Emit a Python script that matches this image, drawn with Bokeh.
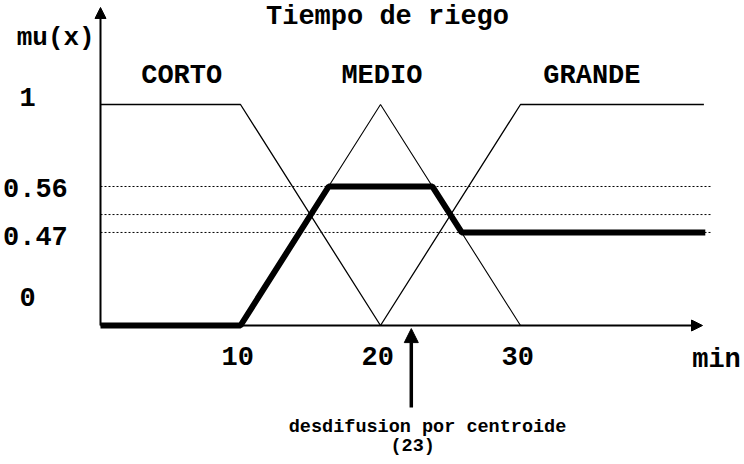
from bokeh.plotting import figure
from bokeh.models import Range1d, Arrow, NormalHead
from bokeh.core.properties import value
from bokeh.embed import file_html
from bokeh.resources import INLINE

# ---- data ----
title_text = "Tiempo de riego"
set_names = ["CORTO", "MEDIO", "GRANDE"]
set_centers = [5.8, 20.1, 35.1]

corto_x = [0, 10, 20]
corto_y = [1, 1, 0]
medio_x = [10, 20, 30]
medio_y = [0, 1, 0]
grande_x = [20, 30, 43.1]
grande_y = [0, 1, 1]

# aggregated output (thick line)
out_x = [0, 10, 16.3, 23.7, 25.8, 43.2]
out_y = [0, 0, 0.629, 0.629, 0.421, 0.421]

# dotted cut levels (as drawn) and their printed labels
level_y = [0.629, 0.502, 0.421]
ytick_labels = ["1", "0.56", "0.47", "0"]
ytick_pos = [1.032, 0.624, 0.403, 0.131]

xtick_vals = [10, 20, 30]
xtick_labels = ["10", "20", "30"]

centroid_x = 22.2
centroid_label = "(23)"
centroid_text = "desdifusion por centroide"

FONT = value("Liberation Mono")

p = figure(width=744, height=464, output_backend="svg", toolbar_location=None,
           x_range=Range1d(-100 / 14, 644 / 14), y_range=Range1d(-139 / 221, 325 / 221),
           min_border=0)
p.axis.visible = False
p.grid.visible = False
p.outline_line_color = None
p.background_fill_color = "white"
p.border_fill_color = "white"

# dotted levels
for ly in level_y:
    p.line([0, 43.6], [ly, ly], line_color="black", line_width=1, line_dash="2 2")

# membership functions
p.line(corto_x, corto_y, line_color="black", line_width=1.3)
p.line(medio_x, medio_y, line_color="black", line_width=1.1)
p.line(grande_x, grande_y, line_color="black", line_width=1.3)

# axes with arrows
p.add_layout(Arrow(end=NormalHead(size=11, fill_color="black", line_color="black"),
                   x_start=0, y_start=0, x_end=43.0, y_end=0,
                   line_color="black", line_width=2))
p.add_layout(Arrow(end=NormalHead(size=11, fill_color="black", line_color="black"),
                   x_start=0, y_start=0, x_end=0, y_end=1.439,
                   line_color="black", line_width=2))

# thick output
p.line(out_x, out_y, line_color="black", line_width=6)

# centroid arrow
p.add_layout(Arrow(end=NormalHead(size=14, fill_color="black", line_color="black"),
                   x_start=centroid_x, y_start=-0.371, x_end=centroid_x, y_end=-0.014,
                   line_color="black", line_width=3.5))

# texts
p.text(x=[20.5], y=[1.394], text=[title_text], text_font=FONT, text_font_style="bold",
       text_font_size="27px", text_align="center", text_baseline="middle")
p.text(x=[-3.2], y=[1.299], text=["mu(x)"], text_font=FONT, text_font_style="bold",
       text_font_size="26px", text_align="center", text_baseline="middle")
p.text(x=set_centers, y=[1.127] * 3, text=set_names, text_font=FONT, text_font_style="bold",
       text_font_size="27px", text_align="center", text_baseline="middle")
p.text(x=[-5.2, -4.65, -4.65, -5.2], y=ytick_pos, text=ytick_labels, text_font=FONT,
       text_font_style="bold", text_font_size="27px", text_align="center", text_baseline="middle")
p.text(x=[v - 0.2 for v in xtick_vals], y=[-0.136] * 3, text=xtick_labels, text_font=FONT,
       text_font_style="bold", text_font_size="27px", text_align="center", text_baseline="middle")
p.text(x=[44.0], y=[-0.158], text=["min"], text_font=FONT, text_font_style="bold",
       text_font_size="27px", text_align="center", text_baseline="middle")
p.text(x=[23.36], y=[-0.462], text=[centroid_text], text_font=FONT, text_font_style="bold",
       text_font_size="18.5px", text_align="center", text_baseline="middle")
p.text(x=[22.3], y=[-0.548], text=[centroid_label], text_font=FONT, text_font_style="bold",
       text_font_size="18.5px", text_align="center", text_baseline="middle")

open("out.html", "w").write(file_html(p, INLINE))
